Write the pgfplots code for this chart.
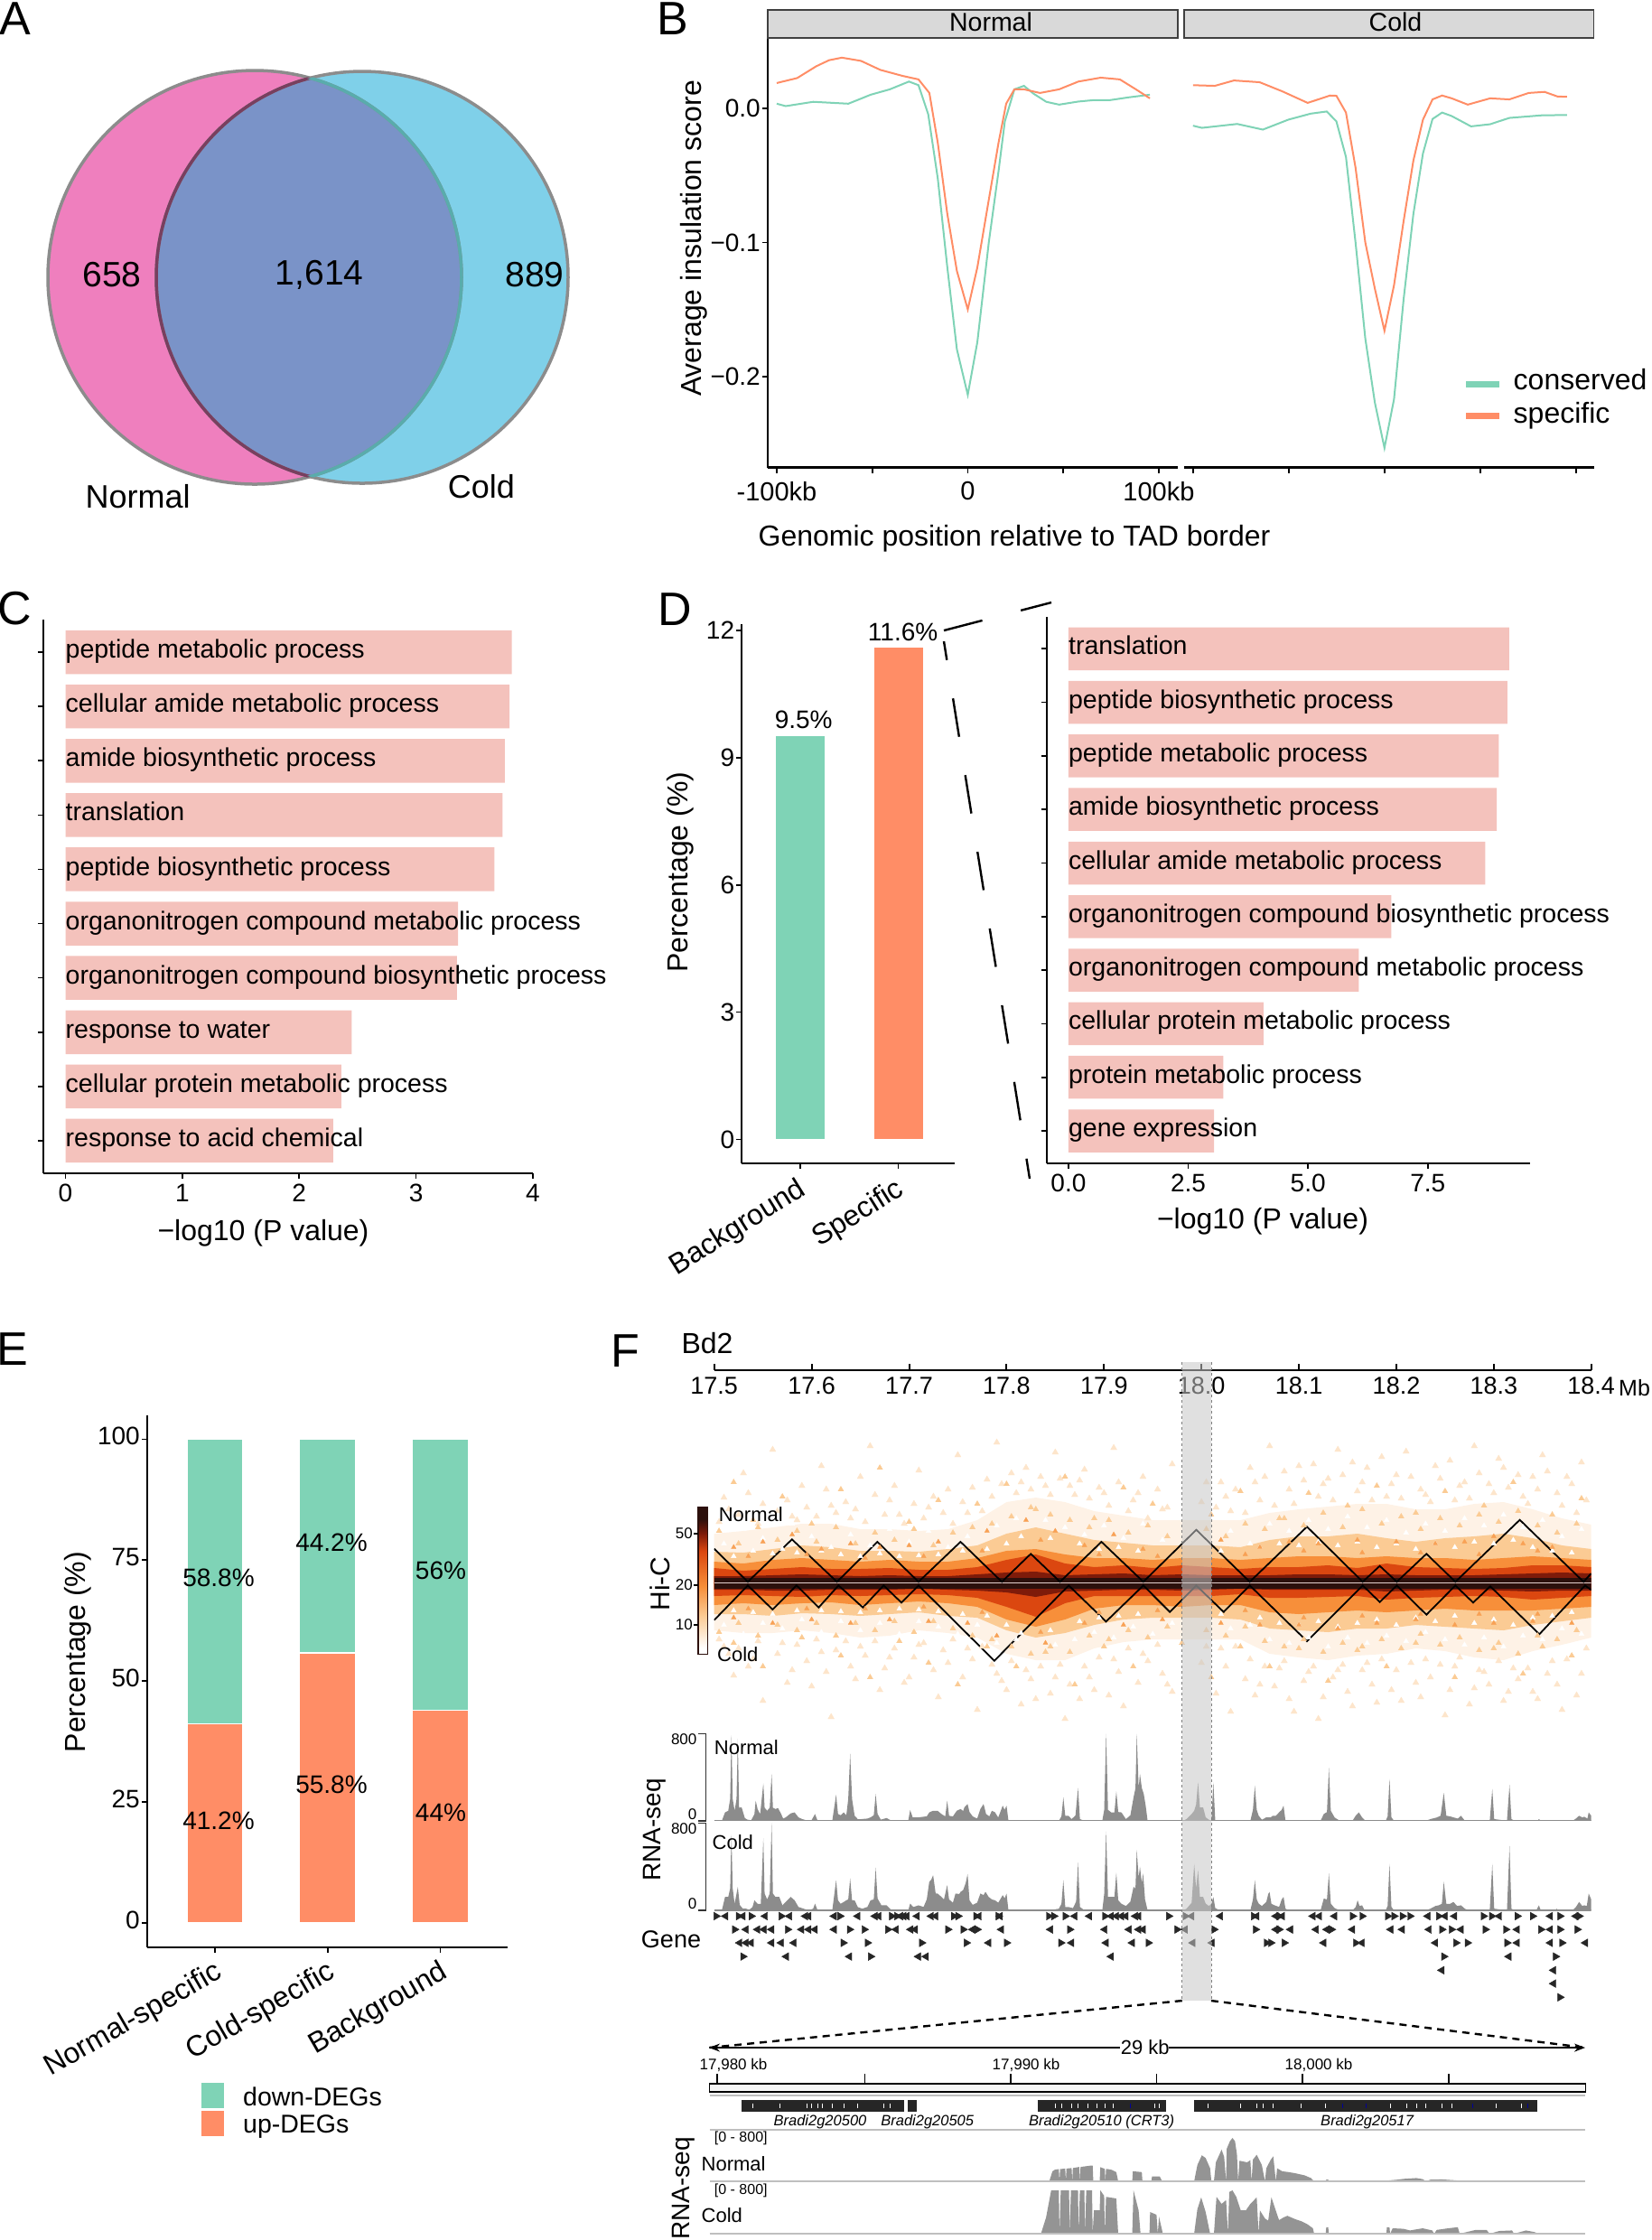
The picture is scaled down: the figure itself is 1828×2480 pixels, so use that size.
\documentclass[border=0pt]{standalone}
\usepackage{fontspec}
\setmainfont{Liberation Sans}
\usepackage{pgfplots}
\usepackage{pgfplotstable}
\usetikzlibrary{arrows.meta}
\pgfplotsset{compat=1.18}
\newcommand\fs[1]{\fontsize{#1}{#1}\selectfont}
\definecolor{teal1}{HTML}{7FD3B6}
\definecolor{oran1}{HTML}{FF8D66}
\definecolor{barp}{HTML}{F4C2BC}
\definecolor{vpink}{HTML}{EF7FBE}
\definecolor{vblue}{HTML}{7FD0E9}
\definecolor{vmid}{HTML}{7A93C8}
\definecolor{hic1}{HTML}{FEF2E6}
\definecolor{hics}{HTML}{FDE5CB}
\definecolor{hic2}{HTML}{FBCB94}
\definecolor{hic3}{HTML}{F78F3A}
\definecolor{hic4}{HTML}{DB4710}
\definecolor{hic5}{HTML}{7E1B0A}
\definecolor{hic6}{HTML}{2C100C}
\definecolor{trk}{HTML}{8C8C8C}
\pgfdeclareverticalshading{hicbar}{100bp}{color(0bp)=(white);color(27bp)=(white);color(38bp)=(hic2);color(48bp)=(hic3);color(60bp)=(hic4);color(66bp)=(hic5);color(71bp)=(hic6);color(100bp)=(hic6)}
\tikzset{lab/.style={anchor=west,inner sep=0pt,yshift=-4pt,text height=0.72em,text depth=0.21em}}
\pgfplotsset{
  every axis/.append style={scale only axis,clip=true},
  base/.style={axis x line*=bottom,axis y line*=left,tick align=outside,
    axis line style={-,line width=2.2pt},
    every tick/.style={black,line width=1.6pt},major tick length=6pt,
    tick label style={font=\fs{28},inner sep=2pt},x tick label style={yshift=-4pt},xmajorgrids=false},
  bars/.style={base,y tick label style={font=\fs{28}},ytick={1,...,10},yticklabels={},ymin=0.4,ymax=10.6,clip=false},
}
\newcommand\T[5]{\node[inner sep=0pt,anchor=#1] at (axis cs:#2,#3) {\fs{#4}#5};}
\newcommand\R[4]{\node[inner sep=0pt,rotate=90] at (axis cs:#1,#2) {\fs{#3}#4};}
\newcommand\BL[2]{\node[lab] at (axis cs:0,#1) {\fs{28.5}#2};}

\pgfplotstableread{
x t1 t2 t3 t4 t5 b1 b2 b3 b4 b5
17.50 55 35 24 17 8 52 34 24 14 7
17.53 58 34 22 14 8 55 34 22 13 7
17.56 62 38 26 16 9 55 36 24 14 8
17.59 66 42 28 18 10 52 33 22 15 8
17.62 66 40 26 16 9 55 34 21 13 7
17.65 60 36 24 16 8 60 36 24 14 7
17.68 60 36 26 17 9 58 34 22 13 7
17.71 58 35 24 15 8 52 32 20 12 6
17.74 60 38 24 15 8 55 36 22 13 7
17.77 70 42 28 18 10 60 38 26 16 8
17.80 90 55 36 26 12 78 52 40 26 10
17.83 95 62 38 32 13 85 60 48 37 15
17.86 90 55 32 22 9 85 55 40 22 9
17.89 80 48 28 18 10 72 46 28 14 8
17.92 75 45 28 20 11 65 40 24 14 7
17.95 70 42 26 17 9 62 38 24 14 7
17.98 70 42 28 20 10 62 38 26 14 8
18.01 70 42 28 18 9 62 38 24 14 7
18.04 70 40 26 16 9 62 40 24 12 6
18.07 78 48 28 18 9 78 50 32 16 7
18.10 82 52 30 18 10 82 52 34 16 7
18.13 85 52 30 20 10 85 54 32 15 7
18.16 88 55 28 17 9 80 50 30 14 7
18.19 88 50 30 22 10 78 50 32 18 9
18.22 82 46 28 18 9 72 46 30 16 8
18.25 82 50 28 17 9 75 48 28 15 7
18.28 88 52 26 16 9 82 50 30 14 7
18.31 90 55 28 17 10 85 52 30 15 8
18.34 82 50 30 20 11 75 46 30 18 9
18.37 72 42 28 20 12 68 42 28 16 8
18.40 65 38 26 18 11 60 38 26 14 8
}\hicband

\begin{document}
\begin{tikzpicture}
\path[use as bounding box] (0pt,0pt) rectangle (1828pt,-2480pt);

% B, insulation profiles
\begin{axis}[base,at={(850pt,-517.8pt)},anchor=south west,width=453.7pt,height=475.8pt,
  xmin=-104.7,xmax=109.8,ymin=-0.2678,ymax=0.0524,
  xtick={-100,-50,0,50,100},xticklabels={-100kb,,0,,100kb},
  x tick label style={yshift=-3pt,font=\fs{29}},
  ytick={-0.2,-0.1,0},yticklabels={−0.2,−0.1,0.0},
  x axis line style={line width=3pt},y axis line style={line width=1.6pt}]
\addplot[teal1,line width=2pt] coordinates {(-100,.0034)(-95.3,.0016)(-80.9,.0048)(-62.5,.0034)(-50.8,.0101)(-40.8,.0141)(-30.8,.0199)(-25.8,.0172)(-20.7,-.0045)(-15.7,-.0523)(-10.7,-.1186)(-5.7,-.1796)(0,-.2135)(5,-.1743)(11,-.1)(16.1,-.0469)(19.4,-.0098)(24.4,.0141)(29.4,.0167)(34.4,.0109)(41.1,.0048)(47.8,.0027)(57.9,.005)(66.2,.0061)(74.6,.0061)(84.6,.0082)(95.3,.0101)};
\addplot[oran1,line width=2pt] coordinates {(-100,.0188)(-89.3,.0225)(-79.3,.0313)(-72.6,.0358)(-65.9,.0377)(-55.9,.0353)(-45.8,.0286)(-34.1,.0241)(-25.8,.0215)(-20.1,.0114)(-15.7,-.0257)(-10.7,-.0788)(-5.7,-.1212)(0,-.1499)(5,-.1186)(11,-.0682)(16.1,-.0257)(20.1,.0034)(24.4,.0141)(29.4,.0141)(37.8,.0114)(47.8,.0141)(57.9,.0199)(69.6,.0228)(79.6,.0215)(88,.0141)(95.3,.0074)};
\end{axis}
\begin{axis}[base,at={(1310.8pt,-517.8pt)},anchor=south west,width=453.7pt,height=475.8pt,
  xmin=-104.7,xmax=109.3,ymin=-0.2678,ymax=0.0524,axis y line=none,
  xtick={-100,-50,0,50,100},xticklabels={},
  x axis line style={line width=3pt}]
\addplot[teal1,line width=2pt] coordinates {(-100,-.013)(-95.3,-.0146)(-76.9,-.0117)(-63.5,-.0159)(-50.2,-.0085)(-38.5,-.004)(-30.1,-.0024)(-25.1,-.0098)(-20.1,-.0363)(-15.1,-.1)(-10,-.1716)(-5,-.2194)(0,-.2531)(5,-.2167)(10,-.1424)(15.1,-.0788)(20.1,-.0337)(25.1,-.008)(30.1,-.0032)(35.1,-.0058)(45.2,-.0135)(55.2,-.0119)(65.2,-.0072)(81.9,-.0053)(95.3,-.005)};
\addplot[oran1,line width=2pt] coordinates {(-100,.0172)(-88.6,.0167)(-78.6,.0207)(-65.2,.0194)(-53.5,.0127)(-40.1,.004)(-28.4,.0095)(-25.1,.0093)(-20.1,-.0032)(-15.1,-.0443)(-10,-.1)(-5,-.1345)(0,-.1658)(5,-.1318)(10,-.0841)(15.1,-.039)(20.1,-.0085)(25.1,.0066)(30.1,.0095)(35.1,.0074)(43.5,.0027)(55.2,.0074)(65.2,.0066)(75.3,.0114)(83.6,.0122)(90.3,.0088)(95.3,.0085)};
\end{axis}

% C, GO terms
\begin{axis}[bars,at={(47.8pt,-1299pt)},anchor=south west,width=542.2pt,height=613pt,
  xmin=-0.191,xmax=4,xtick={0,1,2,3,4},xticklabels={0,1,2,3,4}]
\addplot[xbar,fill=barp,draw=none,bar width=48.5pt,bar shift=0pt] coordinates {(3.82,10)(3.80,9)(3.76,8)(3.74,7)(3.67,6)(3.36,5)(3.35,4)(2.45,3)(2.36,2)(2.29,1)};
\BL{10}{peptide metabolic process}
\BL{9}{cellular amide metabolic process}
\BL{8}{amide biosynthetic process}
\BL{7}{translation}
\BL{6}{peptide biosynthetic process}
\BL{5}{organonitrogen compound metabolic process}
\BL{4}{organonitrogen compound biosynthetic process}
\BL{3}{response to water}
\BL{2}{cellular protein metabolic process}
\BL{1}{response to acid chemical}
\end{axis}

% D, left bars
\begin{axis}[base,at={(821.3pt,-1287.6pt)},anchor=south west,width=236pt,height=596.6pt,
  xmin=0.4,xmax=2.58,ymin=-0.558,ymax=12.15,clip=false,
  xtick={1,2},xticklabels={Background,Specific},
  x tick label style={rotate=32,anchor=north east,font=\fs{32},inner sep=1pt,yshift=0pt,xshift=-5pt},
  ytick={0,3,6,9,12},yticklabels={0,3,6,9,12}]
\addplot[ybar,fill=teal1,draw=none,bar width=54pt,bar shift=0pt] coordinates {(1,9.5)};
\addplot[ybar,fill=oran1,draw=none,bar width=54pt,bar shift=0pt] coordinates {(2,11.6)};
\end{axis}

% D, right bars
\begin{axis}[bars,at={(1158.6pt,-1287.6pt)},anchor=south west,width=535.7pt,height=604.9pt,
  xmin=-0.458,xmax=9.64,xtick={0,2.5,5,7.5},xticklabels={0.0,2.5,5.0,7.5}]
\addplot[xbar,fill=barp,draw=none,bar width=47.5pt,bar shift=0pt] coordinates {(9.2,10)(9.16,9)(8.98,8)(8.94,7)(8.7,6)(6.74,5)(6.06,4)(4.07,3)(3.23,2)(3.04,1)};
\BL{10}{translation}
\BL{9}{peptide biosynthetic process}
\BL{8}{peptide metabolic process}
\BL{7}{amide biosynthetic process}
\BL{6}{cellular amide metabolic process}
\BL{5}{organonitrogen compound biosynthetic process}
\BL{4}{organonitrogen compound metabolic process}
\BL{3}{cellular protein metabolic process}
\BL{2}{protein metabolic process}
\BL{1}{gene expression}
\end{axis}

% E, stacked bars
\begin{axis}[base,at={(163pt,-2156pt)},anchor=south west,width=399.4pt,height=589.5pt,
  ybar stacked,bar width=62pt,xmin=0.4,xmax=3.6,ymin=-5,ymax=105,clip=false,
  xtick={1,2,3},xticklabels={Normal-specific,Cold-specific,Background},
  x tick label style={rotate=30,anchor=north east,font=\fs{32},inner sep=1pt,yshift=0pt,xshift=-2pt},
  y tick label style={yshift=3pt},
  ytick={0,25,50,75,100},yticklabels={0,25,50,75,100}]
\addplot[fill=oran1,draw=white,line width=1.5pt] coordinates {(1,41.2)(2,55.8)(3,44)};
\addplot[fill=teal1,draw=white,line width=1.5pt] coordinates {(1,58.8)(2,44.2)(3,56)};
\end{axis}

% F, Hi-C map
\begin{axis}[hide axis,at={(790.7pt,-1916pt)},anchor=south west,width=971pt,height=326pt,
  xmin=17.5,xmax=18.4,ymin=-163,ymax=163]
\addplot[draw=none,fill=hic1] table[x=x,y=t1] {\hicband} \closedcycle;
\addplot[draw=none,fill=hic1] table[x=x,y expr=-\thisrow{b1}] {\hicband} \closedcycle;
\addplot[only marks,mark=triangle*,mark size=4pt,color=hics] coordinates {
(17.51,95)(17.53,122)(17.55,88)(17.56,148)(17.58,74)(17.59,108)(17.61,130)(17.62,86)(17.64,72)(17.65,118)(17.66,152)(17.68,92)(17.69,76)(17.71,125)(17.72,84)(17.74,104)(17.75,142)(17.76,78)(17.78,115)(17.79,156)(17.81,100)(17.82,128)(17.84,108)(17.85,145)(17.87,98)(17.88,126)(17.90,100)(17.91,150)(17.93,92)(17.94,118)(17.96,82)(17.97,132)(18.00,90)(18.02,112)(18.03,80)(18.05,128)(18.06,92)(18.07,152)(18.09,104)(18.10,130)(18.12,96)(18.13,116)(18.14,148)(18.16,102)(18.17,128)(18.19,96)(18.20,120)(18.21,146)(18.23,98)(18.24,130)(18.26,92)(18.27,112)(18.28,152)(18.30,100)(18.31,128)(18.33,96)(18.34,118)(18.35,142)(18.37,86)(18.38,110)(18.39,134)
(17.51,-70)(17.52,-102)(17.54,-84)(17.55,-130)(17.57,-66)(17.58,-96)(17.60,-114)(17.61,-76)(17.62,-148)(17.64,-92)(17.65,-70)(17.67,-118)(17.68,-82)(17.70,-104)(17.71,-68)(17.73,-126)(17.74,-88)(17.76,-72)(17.77,-140)(17.79,-100)(17.80,-118)(17.82,-96)(17.83,-128)(17.85,-104)(17.86,-150)(17.88,-92)(17.89,-118)(17.91,-84)(17.92,-136)(17.94,-78)(17.96,-100)(17.97,-120)(18.00,-88)(18.02,-72)(18.03,-142)(18.05,-84)(18.06,-112)(18.08,-94)(18.09,-128)(18.11,-98)(18.12,-150)(18.14,-96)(18.15,-120)(18.17,-88)(18.18,-132)(18.20,-96)(18.22,-110)(18.23,-84)(18.25,-146)(18.26,-92)(18.28,-116)(18.29,-98)(18.31,-130)(18.32,-94)(18.34,-120)(18.36,-86)(18.37,-140)(18.39,-100)
(17.505,68)(17.515,82)(17.525,76)(17.535,100)(17.545,66)(17.565,80)(17.575,92)(17.585,70)(17.595,84)(17.605,74)(17.615,104)(17.625,78)(17.635,90)(17.645,82)(17.655,68)(17.665,98)(17.675,76)(17.685,108)(17.695,66)(17.705,88)(17.715,72)(17.725,96)(17.735,78)(17.745,66)(17.755,90)(17.765,106)(17.775,80)(17.785,96)(17.795,110)(17.805,122)(17.815,112)(17.825,104)(17.835,118)(17.845,98)(17.855,116)(17.865,108)(17.875,114)(17.885,94)(17.895,106)(17.905,86)(17.915,112)(17.925,80)(17.935,100)(17.945,72)(17.955,104)(17.965,84)(18.005,112)(18.015,84)(18.025,96)(18.035,104)(18.045,78)(18.055,112)(18.065,118)(18.075,86)(18.085,124)(18.095,88)(18.105,114)(18.115,132)(18.125,110)(18.135,92)(18.145,120)(18.155,134)(18.165,112)(18.175,92)(18.185,140)(18.195,110)(18.205,94)(18.215,118)(18.225,104)(18.235,90)(18.245,116)(18.255,136)(18.265,108)(18.275,94)(18.285,122)(18.295,110)(18.305,138)(18.315,106)(18.325,120)(18.335,88)(18.345,104)(18.355,124)(18.365,100)(18.375,118)(18.385,78)(18.395,92)
(17.505,-62)(17.515,-78)(17.525,-72)(17.535,-92)(17.545,-64)(17.565,-78)(17.575,-110)(17.585,-68)(17.595,-86)(17.605,-62)(17.615,-98)(17.625,-74)(17.635,-64)(17.645,-106)(17.655,-80)(17.665,-64)(17.675,-94)(17.685,-72)(17.695,-110)(17.705,-82)(17.715,-66)(17.725,-96)(17.735,-74)(17.745,-62)(17.755,-104)(17.765,-84)(17.775,-70)(17.785,-90)(17.795,-108)(17.805,-86)(17.815,-134)(17.825,-106)(17.835,-92)(17.845,-122)(17.855,-90)(17.865,-112)(17.875,-128)(17.885,-104)(17.895,-82)(17.905,-124)(17.915,-98)(17.925,-72)(17.935,-110)(17.945,-86)(17.955,-68)(17.965,-112)(18.005,-70)(18.015,-122)(18.025,-92)(18.035,-70)(18.045,-106)(18.055,-124)(18.065,-92)(18.075,-114)(18.085,-86)(18.095,-142)(18.105,-108)(18.115,-92)(18.125,-126)(18.135,-104)(18.145,-90)(18.155,-136)(18.165,-96)(18.175,-112)(18.185,-84)(18.195,-118)(18.205,-130)(18.215,-88)(18.225,-126)(18.235,-104)(18.245,-90)(18.255,-118)(18.265,-82)(18.275,-134)(18.285,-96)(18.295,-112)(18.305,-86)(18.315,-120)(18.325,-106)(18.335,-94)(18.345,-128)(18.355,-100)(18.365,-112)(18.375,-84)(18.385,-124)(18.395,-72)
};
\addplot[only marks,mark=triangle*,mark size=3.5pt,color=hic2] coordinates {
(17.52,112)(17.54,70)(17.57,96)(17.60,66)(17.63,104)(17.67,128)(17.70,68)(17.73,92)(17.77,88)(17.80,110)(17.83,82)(17.86,118)(17.89,72)(17.92,106)(17.95,88)(18.01,76)(18.04,102)(18.08,72)(18.11,100)(18.15,86)(18.18,108)(18.22,78)(18.25,102)(18.29,86)(18.32,112)(18.36,76)(18.39,94)
(17.52,-66)(17.55,-92)(17.59,-60)(17.63,-80)(17.66,-104)(17.69,-64)(17.72,-88)(17.75,-112)(17.78,-70)(17.81,-92)(17.84,-76)(17.87,-112)(17.90,-70)(17.93,-92)(17.98,-66)(18.01,-104)(18.04,-70)(18.07,-92)(18.10,-72)(18.13,-108)(18.16,-74)(18.19,-92)(18.22,-66)(18.26,-104)(18.30,-72)(18.33,-100)(18.35,-70)(18.38,-80)
(17.505,58)(17.525,44)(17.545,62)(17.565,48)(17.585,58)(17.605,46)(17.625,62)(17.645,44)(17.665,56)(17.685,48)(17.705,60)(17.725,42)(17.745,56)(17.765,62)(17.785,66)(17.805,74)(17.825,84)(17.845,76)(17.865,70)(17.885,62)(17.905,70)(17.925,56)(17.945,64)(17.965,52)(18.005,60)(18.025,52)(18.045,66)(18.065,60)(18.085,72)(18.105,64)(18.125,78)(18.145,62)(18.165,82)(18.185,66)(18.205,74)(18.225,60)(18.245,72)(18.265,64)(18.285,76)(18.305,68)(18.325,80)(18.345,64)(18.365,56)(18.385,66)
(17.505,-54)(17.525,-44)(17.545,-58)(17.565,-46)(17.585,-52)(17.605,-44)(17.625,-58)(17.645,-44)(17.665,-52)(17.685,-42)(17.705,-54)(17.725,-42)(17.745,-50)(17.765,-58)(17.785,-62)(17.805,-70)(17.825,-78)(17.845,-70)(17.865,-76)(17.885,-58)(17.905,-62)(17.925,-52)(17.945,-60)(17.965,-48)(18.005,-52)(18.025,-58)(18.045,-48)(18.065,-64)(18.085,-70)(18.105,-62)(18.125,-76)(18.145,-66)(18.165,-70)(18.185,-62)(18.205,-72)(18.225,-56)(18.245,-68)(18.265,-60)(18.285,-74)(18.305,-66)(18.325,-78)(18.345,-58)(18.365,-62)(18.385,-52)
};
\addplot[draw=none,fill=hic2] table[x=x,y=t2] {\hicband} \closedcycle;
\addplot[draw=none,fill=hic2] table[x=x,y expr=-\thisrow{b2}] {\hicband} \closedcycle;
\addplot[only marks,mark=triangle*,mark size=3.2pt,color=white] coordinates {
(17.51,44)(17.53,60)(17.55,50)(17.57,38)(17.58,66)(17.60,52)(17.62,40)(17.64,54)(17.66,42)(17.68,60)(17.70,46)(17.72,58)(17.74,40)(17.76,52)(17.79,64)(17.81,72)(17.84,70)(17.86,62)(17.88,54)(17.90,64)(17.92,50)(17.94,66)(17.96,48)(18.03,58)(18.05,44)(18.07,66)(18.09,58)(18.11,70)(18.13,60)(18.15,74)(18.17,62)(18.19,70)(18.21,56)(18.23,66)(18.25,58)(18.27,72)(18.29,64)(18.31,76)(18.33,62)(18.35,70)(18.37,52)(18.39,60)
(17.51,-46)(17.53,-56)(17.55,-44)(17.57,-50)(17.59,-40)(17.61,-54)(17.63,-42)(17.65,-52)(17.67,-44)(17.69,-56)(17.71,-42)(17.73,-48)(17.75,-56)(17.77,-46)(17.79,-66)(17.81,-62)(17.85,-68)(17.87,-62)(17.89,-54)(17.91,-60)(17.93,-48)(17.95,-56)(17.97,-44)(18.03,-50)(18.05,-46)(18.07,-62)(18.09,-66)(18.11,-60)(18.13,-70)(18.15,-60)(18.17,-66)(18.19,-58)(18.21,-64)(18.23,-54)(18.25,-62)(18.27,-68)(18.29,-60)(18.31,-70)(18.33,-58)(18.35,-62)(18.37,-50)(18.39,-56)
(17.52,30)(17.54,36)(17.56,33)(17.585,34)(17.61,36)(17.63,32)(17.65,30)(17.67,33)(17.69,30)(17.71,31)(17.73,32)(17.755,36)(17.78,38)(17.80,44)(17.815,52)(17.845,50)(17.875,44)(17.895,38)(17.915,40)(17.935,36)(18.02,36)(18.06,40)(18.08,44)(18.10,42)(18.12,46)(18.14,42)(18.16,46)(18.18,40)(18.20,44)(18.22,38)(18.24,44)(18.26,40)(18.28,46)(18.30,44)(18.32,48)(18.34,40)(18.36,36)(18.38,34)
(17.52,-30)(17.54,-32)(17.56,-34)(17.585,-30)(17.61,-30)(17.63,-31)(17.65,-32)(17.67,-30)(17.69,-28)(17.71,-29)(17.73,-31)(17.755,-34)(17.78,-36)(17.80,-46)(17.815,-55)(17.845,-52)(17.875,-42)(17.895,-38)(17.915,-36)(17.935,-34)(18.02,-34)(18.06,-38)(18.08,-44)(18.10,-46)(18.12,-42)(18.14,-48)(18.16,-44)(18.18,-40)(18.20,-46)(18.22,-38)(18.24,-42)(18.26,-36)(18.28,-44)(18.30,-40)(18.32,-46)(18.34,-38)(18.36,-36)(18.38,-32)
};
\addplot[only marks,mark=triangle*,mark size=3pt,color=hic3!70!hic2] coordinates {
(17.52,40)(17.55,46)(17.58,54)(17.61,38)(17.64,44)(17.67,40)(17.70,42)(17.73,46)(17.78,58)(17.82,70)(17.85,58)(17.88,42)(17.91,54)(17.94,38)(18.02,48)(18.06,40)(18.09,46)(18.12,44)(18.16,48)(18.20,46)(18.24,44)(18.27,46)(18.30,52)(18.33,44)(18.36,40)
(17.52,-38)(17.56,-44)(17.60,-40)(17.64,-44)(17.68,-40)(17.72,-42)(17.76,-44)(17.79,-58)(17.84,-66)(17.88,-44)(17.92,-46)(17.96,-40)(18.02,-44)(18.06,-46)(18.10,-46)(18.14,-50)(18.18,-44)(18.22,-40)(18.26,-46)(18.30,-44)(18.34,-42)(18.38,-44)
(17.535,30)(17.595,32)(17.655,28)(17.715,30)(17.775,36)(17.835,48)(17.895,32)(17.955,30)(18.045,32)(18.105,36)(18.165,34)(18.225,34)(18.285,32)(18.345,36)
(17.535,-28)(17.595,-28)(17.655,-28)(17.715,-26)(17.775,-32)(17.835,-54)(17.895,-32)(17.955,-30)(18.045,-30)(18.105,-38)(18.165,-36)(18.225,-34)(18.285,-34)(18.345,-34)
};
\addplot[draw=none,fill=hic3] table[x=x,y=t3] {\hicband} \closedcycle;
\addplot[draw=none,fill=hic3] table[x=x,y expr=-\thisrow{b3}] {\hicband} \closedcycle;
\addplot[draw=none,fill=hic4] table[x=x,y=t4] {\hicband} \closedcycle;
\addplot[draw=none,fill=hic4] table[x=x,y expr=-\thisrow{b4}] {\hicband} \closedcycle;
\addplot[draw=none,fill=hic5] table[x=x,y=t5] {\hicband} \closedcycle;
\addplot[draw=none,fill=hic5] table[x=x,y expr=-\thisrow{b5}] {\hicband} \closedcycle;
\addplot[hic6,line width=12pt] coordinates {(17.5,0)(18.4,0)};
\addplot[white!80!hic5,line width=1.2pt] coordinates {(17.5,0.5)(18.4,0.5)};
\addplot[black,line width=1.8pt] coordinates {(17.5,38.3)(17.5345,1.7)(17.5798,48.7)(17.626,1.7)(17.6675,46)(17.7097,1.7)(17.7528,46)(17.7952,1.7)(17.8249,32.7)(17.8549,1.7)(17.8974,46)(17.9404,1.7)(17.9947,59.3)(18.0496,1.7)(18.1083,62.7)(18.1655,1.7)(18.183,19.3)(18.2005,1.7)(18.2309,32.7)(18.2606,1.7)(18.3267,70.3)(18.3921,1.7)(18.4,11)};
\addplot[black,line width=1.8pt] coordinates {(17.5,-40.7)(17.5345,-2.3)(17.56,-29)(17.5845,-2.3)(17.6072,-26.7)(17.6276,-2.3)(17.6526,-26.7)(17.6739,-2.3)(17.6921,-21.3)(17.7097,-2.3)(17.7875,-85.7)(17.8638,-2.3)(17.9021,-42.3)(17.9404,-2.3)(17.9676,-31.7)(17.9947,-2.3)(18.0228,-31.7)(18.0496,-2.3)(18.1083,-64)(18.1655,-2.3)(18.183,-20.7)(18.2005,-2.3)(18.2309,-34.7)(18.2606,-2.3)(18.2788,-21.3)(18.2964,-3.3)(18.3468,-56.3)(18.3937,-2.3)(18.4,-7.3)};
\end{axis}

% F, RNA-seq tracks
\begin{axis}[hide axis,at={(790.7pt,-2015.8pt)},anchor=south west,width=971pt,height=96.2pt,
  xmin=100,xmax=1474,ymin=0,ymax=800]
\addplot[fill=trk,draw=none] coordinates {(100,0)(112,0)(117,77)(122,92)(125,200)(127,785)(129,200)(132,92)(135,200)(137,755)(139,120)(143,123)(148,25)(152,10)(158,5)(163,60)(165,185)(168,108)(172,60)(177,345)(179,120)(183,92)(187,120)(190,431)(192,120)(196,108)(200,117)(205,62)(208,20)(212,31)(220,68)(226,77)(232,31)(238,15)(244,5)(252,0)(258,62)(262,0)(285,0)(291,240)(294,62)(298,50)(303,77)(307,50)(310,200)(313,616)(316,200)(320,46)(325,15)(330,15)(340,20)(345,31)(350,50)(353,246)(356,62)(361,10)(370,25)(378,0)(404,0)(407,99)(411,31)(420,31)(428,37)(433,40)(437,77)(443,92)(450,92)(456,62)(462,40)(465,185)(468,46)(474,40)(480,92)(486,108)(490,90)(492,123)(497,154)(500,80)(505,40)(512,20)(517,108)(522,154)(526,62)(531,40)(535,92)(540,77)(545,30)(552,139)(555,100)(558,139)(561,0)(640,0)(644,40)(647,216)(650,46)(655,46)(660,15)(666,50)(670,302)(673,15)(680,0)(708,0)(711,100)(714,800)(717,100)(722,77)(727,77)(730,271)(733,80)(738,77)(745,15)(752,50)(757,216)(760,300)(762,800)(765,300)(767,431)(770,300)(773,246)(776,139)(779,0)(835,0)(840,15)(848,62)(852,92)(855,150)(858,354)(861,123)(866,123)(870,31)(875,10)(879,0)(882,354)(885,0)(940,0)(944,100)(947,323)(950,100)(953,46)(958,10)(965,31)(972,31)(975,46)(980,46)(985,77)(989,100)(992,139)(995,0)(1050,0)(1055,62)(1060,80)(1063,487)(1066,92)(1072,30)(1080,0)(1100,0)(1105,46)(1110,77)(1115,31)(1120,0)(1152,0)(1155,40)(1158,385)(1161,31)(1165,0)(1215,0)(1222,15)(1232,30)(1238,46)(1243,256)(1247,46)(1253,40)(1258,31)(1265,20)(1270,46)(1276,0)(1315,0)(1319,293)(1322,15)(1342,0)(1346,330)(1349,15)(1354,0)(1390,0)(1392,15)(1395,0)(1445,0)(1450,20)(1455,46)(1460,30)(1463,37)(1468,20)(1470,77)(1474,46)(1474,0)};
\addplot[trk,line width=2pt] coordinates {(100,0)(1474,0)};
\end{axis}
\begin{axis}[hide axis,at={(790.7pt,-2115pt)},anchor=south west,width=971pt,height=96.6pt,
  xmin=100,xmax=1474,ymin=0,ymax=800]
\addplot[fill=trk,draw=none] coordinates {(100,0)(112,0)(117,123)(122,123)(125,200)(127,693)(129,200)(132,60)(137,215)(140,50)(145,15)(150,15)(155,5)(160,30)(163,92)(168,60)(173,60)(177,662)(179,154)(183,100)(187,154)(190,800)(192,154)(196,123)(202,123)(207,46)(212,77)(220,123)(226,92)(232,31)(240,15)(248,0)(255,15)(258,62)(262,0)(285,0)(291,277)(294,92)(298,60)(303,77)(307,92)(310,100)(313,293)(316,92)(320,92)(325,30)(332,15)(340,31)(345,92)(350,100)(353,391)(356,108)(362,46)(370,46)(378,0)(404,0)(407,62)(412,30)(420,46)(428,31)(433,100)(437,262)(440,280)(443,323)(447,154)(450,154)(456,123)(460,100)(465,231)(468,100)(474,70)(478,154)(484,150)(486,170)(490,185)(494,250)(497,333)(500,92)(505,50)(512,70)(517,154)(522,140)(525,170)(530,123)(535,100)(540,92)(545,70)(552,139)(555,110)(558,154)(561,0)(625,0)(640,15)(644,60)(647,277)(650,31)(655,31)(662,20)(667,80)(670,440)(673,31)(680,0)(708,0)(711,150)(714,724)(717,123)(722,123)(727,123)(730,345)(733,92)(738,60)(745,40)(752,80)(757,216)(760,200)(762,554)(765,300)(767,400)(770,250)(772,339)(775,100)(779,0)(835,0)(840,15)(848,70)(852,425)(855,200)(858,370)(861,123)(866,123)(870,62)(875,40)(879,60)(882,123)(885,20)(892,0)(940,0)(944,100)(947,277)(950,100)(953,62)(958,40)(965,77)(968,150)(970,169)(973,60)(978,46)(985,31)(989,100)(992,123)(995,15)(1000,0)(1050,0)(1055,108)(1060,100)(1063,339)(1066,62)(1072,20)(1080,0)(1100,0)(1105,30)(1108,92)(1111,40)(1115,46)(1119,0)(1152,0)(1155,40)(1158,425)(1161,31)(1165,0)(1215,0)(1222,15)(1230,40)(1235,46)(1240,60)(1243,262)(1247,60)(1253,60)(1258,77)(1264,40)(1270,46)(1276,15)(1282,0)(1315,0)(1319,425)(1322,15)(1342,0)(1346,591)(1349,15)(1354,0)(1388,0)(1392,46)(1395,0)(1418,0)(1420,15)(1422,0)(1445,0)(1450,30)(1455,77)(1460,40)(1463,46)(1467,40)(1470,154)(1474,100)(1474,0)};
\addplot[trk,line width=2pt] coordinates {(100,0)(1474,0)};
\end{axis}

% F, gene track
\begin{axis}[hide axis,at={(790.7pt,-2222pt)},anchor=south west,width=971pt,height=108pt,
  xmin=100,xmax=1474,ymin=580,ymax=872,y dir=reverse,clip=false]
\addplot[only marks,mark=triangle*,mark size=5pt,color=black!85,mark options={rotate=-90,draw=none}] coordinates {
(103,600)(138,600)(158,600)(205,600)(297,600)(378,600)(386,600)(475,600)(482,600)(510,600)(545,600)(624,600)(632,600)(650,600)(712,600)(812,600)(838,600)(945,600)(985,600)(1100,600)(1115,600)(1155,600)(1165,600)(1178,600)(1190,600)(1235,600)(1305,600)(1318,600)(1358,600)(1382,600)(1425,600)(1455,600)
(132,640)(215,640)(312,640)(335,640)(372,640)(466,640)(490,640)(512,640)(657,640)(825,640)(883,640)(948,640)(985,640)(1067,640)(1240,640)(1255,640)(1308,640)(1340,640)(1395,640)(1425,640)(1452,640)
(302,680)(340,680)(425,680)(495,680)(558,680)(643,680)(780,680)(965,680)(972,680)(993,680)(1105,680)(1262,680)(1280,680)(1342,680)(1428,680)
(145,721)(345,721)(1243,721)(1418,721)(1425,843)};
\addplot[only marks,mark=triangle*,mark size=5pt,color=black!85,mark options={rotate=90,draw=none}] coordinates {
(118,600)(145,600)(180,600)(218,600)(243,600)(248,600)(288,600)(325,600)(352,600)(358,600)(392,600)(397,600)(402,600)(418,600)(440,600)(447,600)(515,600)(548,600)(665,600)(688,600)(722,600)(730,600)(738,600)(745,600)(760,600)(765,600)(848,600)(893,600)(950,600)(980,600)(990,600)(1038,600)(1048,600)(1072,600)(1218,600)(1245,600)(1260,600)(1330,600)(1410,600)(1450,600)
(150,640)(168,640)(178,640)(190,640)(237,640)(248,640)(258,640)(288,640)(385,640)(408,640)(415,640)(505,640)(550,640)(627,640)(712,640)(750,640)(765,640)(772,640)(838,640)(980,640)(1003,640)(1043,640)(1060,640)(1100,640)(1160,640)(1178,640)(1220,640)(1270,640)(1358,640)(1410,640)
(140,680)(150,680)(158,680)(190,680)(205,680)(225,680)(530,680)(660,680)(714,680)(755,680)(850,680)(880,680)(1055,680)(1115,680)(1230,680)(1358,680)(1410,680)(1465,680)
(213,721)(312,721)(420,721)(432,721)(722,721)(1345,721)(1240,762)(1415,762)(1415,802)};
\end{axis}

% F, gene models in the zoomed window
\begin{axis}[hide axis,at={(785.7pt,-2340pt)},anchor=south west,width=969.6pt,height=18pt,
  xmin=93,xmax=1465,ymin=0,ymax=1,clip=false]
\addplot[black!85,line width=13pt] coordinates {(143,0.5)(398,0.5)};
\addplot[black!85,line width=13pt] coordinates {(403,0.5)(418,0.5)};
\addplot[black!85,line width=13pt] coordinates {(607,0.5)(808,0.5)};
\addplot[black!85,line width=13pt] coordinates {(852,0.5)(1390,0.5)};
\addplot[only marks,mark=|,mark size=2.5pt,white,line width=0.8pt] coordinates {(160,.5)(203,.5)(245,.5)(253,.5)(262,.5)(270,.5)(285,.5)(303,.5)(325,.5)(365,.5)(375,.5)(635,.5)(645,.5)(660,.5)(670,.5)(685,.5)(700,.5)(712,.5)(725,.5)(790,.5)(797,.5)(873,.5)(925,.5)(950,.5)(960,.5)(975,.5)(1020,.5)(1057,.5)(1160,.5)(1185,.5)(1200,.5)(1215,.5)(1240,.5)(1255,.5)(1325,.5)(1365,.5)};
\addplot[only marks,mark=|,mark size=2.5pt,blue!60!black,line width=1pt] coordinates {(752,.5)(1085,.5)(1122,.5)(1288,.5)(1375,.5)};
\end{axis}

% F, zoomed RNA-seq
\begin{axis}[hide axis,at={(785.7pt,-2415pt)},anchor=south west,width=969.6pt,height=48pt,
  xmin=93,xmax=1465,ymin=0,ymax=800]
\addplot[fill=black!42,draw=none] coordinates {(620,0)(625,0)(630,185)(634,215)(640,225)(641,0)(642,225)(650,235)(651,0)(652,235)(660,245)(661,0)(662,245)(672,265)(673,0)(674,265)(690,290)(693,290)(694,0)(704,0)(705,260)(712,230)(713,0)(714,230)(722,215)(730,170)(733,0)(755,0)(756,185)(770,170)(771,0)(785,0)(786,92)(798,92)(802,0)(852,0)(857,300)(864,480)(870,430)(877,240)(879,0)(883,0)(886,350)(895,585)(899,450)(902,0)(903,600)(908,740)(912,800)(916,740)(919,500)(921,0)(923,380)(935,350)(940,390)(942,0)(944,400)(950,490)(958,300)(963,0)(965,240)(972,400)(976,460)(980,0)(982,240)(990,185)(1000,170)(1010,150)(1025,110)(1035,60)(1040,0)(1058,0)(1059,30)(1062,30)(1063,0)(1153,0)(1155,15)(1170,30)(1180,45)(1200,60)(1210,40)(1215,0)(1222,30)(1240,35)(1260,20)(1270,10)(1295,15)(1300,0)(1340,0)(1345,10)(1375,15)(1385,0)};
\addplot[black!25,line width=2pt] coordinates {(93,0)(1465,0)};
\end{axis}
\begin{axis}[hide axis,at={(785.7pt,-2473pt)},anchor=south west,width=969.6pt,height=48pt,
  xmin=93,xmax=1465,ymin=0,ymax=800]
\addplot[fill=black!42,draw=none] coordinates {(612,0)(620,300)(628,800)(640,800)(641,0)(643,800)(656,800)(657,0)(659,800)(670,800)(671,0)(673,800)(680,800)(681,0)(683,800)(692,800)(693,0)(695,430)(704,430)(705,800)(711,700)(712,0)(714,680)(730,650)(733,0)(755,0)(757,800)(765,430)(768,0)(782,0)(783,400)(793,350)(795,0)(797,310)(803,0)(852,0)(857,450)(863,670)(870,400)(877,0)(883,0)(887,680)(895,550)(902,620)(905,0)(907,770)(912,800)(918,680)(925,430)(933,430)(940,550)(950,670)(953,0)(955,430)(963,280)(968,240)(973,670)(985,250)(992,300)(998,330)(1010,270)(1020,230)(1030,170)(1038,100)(1040,0)(1058,0)(1059,120)(1062,120)(1063,0)(1153,0)(1154,120)(1158,120)(1159,0)(1163,100)(1180,90)(1190,60)(1210,100)(1225,60)(1228,0)(1232,70)(1250,100)(1265,120)(1268,0)(1293,70)(1310,70)(1315,0)(1330,50)(1350,60)(1353,0)(1372,60)(1385,30)(1392,0)};
\addplot[black!25,line width=2pt] coordinates {(93,0)(1465,0)};
\end{axis}

% overlay in reference pixels: Venn, labels, connectors
\begin{axis}[hide axis,at={(0pt,-2480pt)},anchor=south west,width=1828pt,height=2480pt,
  xmin=0,xmax=1828,ymin=0,ymax=2480,y dir=reverse,clip=false]
% Venn
\fill[vpink] (axis cs:282,307) circle[radius=229pt];
\fill[vblue] (axis cs:401,307) circle[radius=228pt];
\begin{scope}
\clip (axis cs:282,307) circle[radius=229pt];
\fill[vmid] (axis cs:401,307) circle[radius=228pt];
\end{scope}
\draw[black!45,line width=3.5pt] (axis cs:282,307) circle[radius=229pt];
\draw[black!45,line width=3.5pt] (axis cs:401,307) circle[radius=228pt];
\begin{scope}
\clip (axis cs:282,307) circle[radius=229pt];
\draw[vpink!50!black,line width=3.5pt] (axis cs:401,307) circle[radius=228pt];
\end{scope}
\begin{scope}
\clip (axis cs:401,307) circle[radius=228pt];
\draw[teal!65!white,line width=3.5pt] (axis cs:282,307) circle[radius=229pt];
\end{scope}
\T{center}{124}{304}{39}{658}
\T{center}{353.6}{304}{39}{1,614}
\T{center}{592}{304}{39}{889}
\T{center}{152.7}{550}{36}{Normal}
\T{center}{533}{539}{36}{Cold}
% panel letters
\T{base west}{-1}{38}{52}{A}
\T{base west}{727}{38}{52}{B}
\T{base west}{-3}{691}{52}{C}
\T{base west}{728}{692}{52}{D}
\T{base west}{-4}{1511}{52}{E}
\T{base west}{676}{1513}{52}{F}
% B strips and legend
\draw[fill=black!15,draw=black!75,line width=1.6pt] (axis cs:850,10.7) rectangle (axis cs:1303.7,42);
\draw[fill=black!15,draw=black!75,line width=1.6pt] (axis cs:1310.8,10.7) rectangle (axis cs:1764.5,42);
\T{center}{1097}{24.5}{28.5}{Normal}
\T{center}{1545}{24.5}{28.5}{Cold}
\R{768}{264}{32}{Average insulation score}
\T{center}{1123}{596}{32}{Genomic position relative to TAD border}
\addplot[teal1,line width=7pt] coordinates {(1623,425)(1660,425)};
\addplot[oran1,line width=7pt] coordinates {(1623,460)(1660,460)};
\T{west}{1675.5}{420}{32}{conserved}
\T{west}{1675.5}{460}{32}{specific}
% C, D, E labels
\T{center}{291.5}{1365}{32}{−log10 (P value)}
\T{center}{1398}{1352}{32}{−log10 (P value)}
\R{752.8}{965.7}{32}{Percentage (\%)}
\T{center}{889.7}{796.6}{28}{9.5\%}
\T{center}{999.6}{700}{28}{11.6\%}
\addplot[black,line width=2.4pt,dash pattern=on 44pt off 44pt] coordinates {(1045,698)(1164,667)};
\addplot[black,line width=2.4pt,dash pattern=on 43pt off 43pt,dash phase=22pt] coordinates {(1045,710)(1140,1305)};
\R{86.7}{1829}{32}{Percentage (\%)}
\T{center}{242}{1747}{28}{58.8\%}
\T{center}{242}{2015.4}{28}{41.2\%}
\T{center}{367}{1708}{28}{44.2\%}
\T{center}{367}{1976}{28}{55.8\%}
\T{center}{488}{1739}{28}{56\%}
\T{center}{488}{2007}{28}{44\%}
\addplot[fill=teal1,draw=none] coordinates {(223,2306)(248,2306)(248,2334)(223,2334)};
\addplot[fill=oran1,draw=none] coordinates {(223,2337)(248,2337)(248,2365)(223,2365)};
\T{west}{269}{2321}{28.5}{down-DEGs}
\T{west}{269}{2354}{28.5}{up-DEGs}
% F ruler
\T{center}{783}{1487}{32}{Bd2}
\addplot[black,line width=2pt] coordinates {(790.7,1516.8)(1761.7,1516.8)};
\addplot[black,line width=2pt] coordinates {(790.7,1510)(790.7,1516.8)};
\addplot[black,line width=2pt] coordinates {(898.6,1510)(898.6,1516.8)};
\addplot[black,line width=2pt] coordinates {(1006.5,1510)(1006.5,1516.8)};
\addplot[black,line width=2pt] coordinates {(1114.4,1510)(1114.4,1516.8)};
\addplot[black,line width=2pt] coordinates {(1222.3,1510)(1222.3,1516.8)};
\addplot[black,line width=2pt] coordinates {(1330.2,1510)(1330.2,1516.8)};
\addplot[black,line width=2pt] coordinates {(1438.1,1510)(1438.1,1516.8)};
\addplot[black,line width=2pt] coordinates {(1546,1510)(1546,1516.8)};
\addplot[black,line width=2pt] coordinates {(1653.8,1510)(1653.8,1516.8)};
\addplot[black,line width=2pt] coordinates {(1761.7,1510)(1761.7,1516.8)};
\T{center}{790.7}{1534}{27}{17.5}
\T{center}{898.6}{1534}{27}{17.6}
\T{center}{1006.5}{1534}{27}{17.7}
\T{center}{1114.4}{1534}{27}{17.8}
\T{center}{1222.3}{1534}{27}{17.9}
\T{center}{1330.2}{1534}{27}{18.0}
\T{center}{1438.1}{1534}{27}{18.1}
\T{center}{1546}{1534}{27}{18.2}
\T{center}{1653.8}{1534}{27}{18.3}
\T{center}{1761.7}{1534}{27}{18.4}
\T{west}{1792}{1537}{25}{Mb}
% F Hi-C scale
\R{731}{1753.6}{30}{Hi-C}
\path[shading=hicbar] (axis cs:773,1668.6) rectangle (axis cs:783.6,1831.4);
\draw[hic6,line width=1.6pt] (axis cs:773,1668.6) rectangle (axis cs:783.6,1831.4);
\addplot[black,line width=1.2pt] coordinates {(768,1698)(773,1698)};
\addplot[black,line width=1.2pt] coordinates {(768,1755)(773,1755)};
\addplot[black,line width=1.2pt] coordinates {(768,1799)(773,1799)};
\T{east}{767}{1698}{17}{50}
\T{east}{767}{1755}{17}{20}
\T{east}{767}{1799}{17}{10}
\T{west}{795.6}{1677}{22}{Normal}
\T{west}{794}{1831.4}{22}{Cold}
% F RNA-seq scale
\addplot[black!80,line width=1.6pt] coordinates {(773,1919.6)(781.5,1919.6)(781.5,2015.8)(773,2015.8)};
\addplot[black!80,line width=1.6pt] coordinates {(773,2018.4)(781.5,2018.4)(781.5,2115)(773,2115)};
\T{east}{771.6}{1926}{17}{800}
\T{east}{771.6}{2009}{17}{0}
\T{east}{771.6}{2025}{17}{800}
\T{east}{771.6}{2108}{17}{0}
\T{west}{790.7}{1935}{22}{Normal}
\T{west}{788.5}{2039.5}{22}{Cold}
\R{725}{2026}{28}{RNA-seq}
\T{center}{743}{2147}{27}{Gene}
% F highlighted window
\addplot[fill=black!22,fill opacity=0.55,draw=none] coordinates {(1308.7,1508)(1341,1508)(1341,2215)(1308.7,2215)};
\addplot[black!50,line width=1pt,dashed] coordinates {(1308.7,1508)(1308.7,2215)};
\addplot[black!50,line width=1pt,dashed] coordinates {(1341,1508)(1341,2215)};
\addplot[black,line width=2.4pt,dash pattern=on 8pt off 6pt] coordinates {(1308.7,2215)(785,2267)};
\addplot[black,line width=2.4pt,dash pattern=on 8pt off 6pt] coordinates {(1341,2215)(1755,2267)};
% F zoom scale
\addplot[black,line width=1.6pt,{Stealth[length=12pt]}-] coordinates {(785,2267)(1240,2267)};
\addplot[black,line width=1.6pt,-{Stealth[length=12pt]}] coordinates {(1294,2267)(1755,2267)};
\T{center}{1267.7}{2267}{22}{29 kb}
\T{center}{812}{2286.6}{17}{17,980 kb}
\T{center}{1136}{2286.6}{17}{17,990 kb}
\T{center}{1460}{2286.6}{17}{18,000 kb}
\addplot[black,line width=1.2pt] coordinates {(794,2296)(794,2306)};
\addplot[black,line width=1.2pt] coordinates {(957.5,2296)(957.5,2306)};
\addplot[black,line width=1.2pt] coordinates {(1119,2296)(1119,2306)};
\addplot[black,line width=1.2pt] coordinates {(1280.4,2296)(1280.4,2306)};
\addplot[black,line width=1.2pt] coordinates {(1442,2296)(1442,2306)};
\addplot[black,line width=1.2pt] coordinates {(1604,2296)(1604,2306)};
\draw[fill=black!4,draw=black,line width=1.4pt] (axis cs:785.7,2307) rectangle (axis cs:1755.3,2316);
\addplot[black!25,line width=1.6pt] coordinates {(785.7,2320)(1755.3,2320)};
\T{center}{908}{2349.5}{16.5}{\itshape Bradi2g20500}
\T{center}{1026.7}{2349.5}{16.5}{\itshape Bradi2g20505}
\T{center}{1219.6}{2349.5}{16.5}{\itshape Bradi2g20510 (CRT3)}
\T{center}{1513.6}{2349.5}{16.5}{\itshape Bradi2g20517}
\addplot[black!25,line width=1.6pt] coordinates {(785.7,2358)(1755.3,2358)};
\T{west}{790.7}{2367}{16}{[0 - 800]}
\T{west}{790.7}{2425}{16}{[0 - 800]}
\T{west}{776.5}{2395.7}{22}{Normal}
\T{west}{776.5}{2453}{22}{Cold}
\R{757}{2423}{28}{RNA-seq}
\end{axis}
\end{tikzpicture}
\end{document}
